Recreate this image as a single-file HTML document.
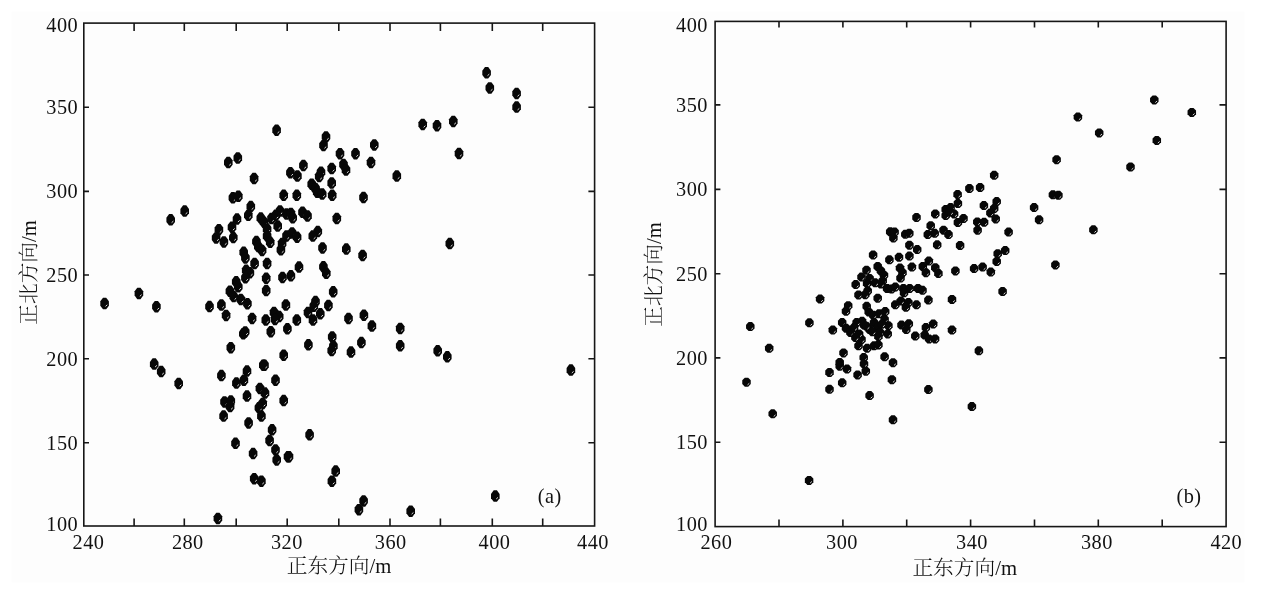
<!DOCTYPE html>
<html><head><meta charset="utf-8"><title>scatter</title>
<style>
html,body{margin:0;padding:0;background:#fff;}
svg{display:block}
text{font-family:"Liberation Serif","Noto Serif CJK SC",serif;fill:#111;}
.tk{font-size:20.3px;letter-spacing:0.45px}
.lb{font-size:20.7px;font-weight:300}
.ax{stroke:#161616;stroke-width:1.6;fill:none}
.p path{fill:#070707}
.p .h{fill:none;stroke:#d8d8d8;stroke-width:1}
</style></head><body>
<svg width="1266" height="591" viewBox="0 0 1266 591">
<rect x="0" y="0" width="1266" height="591" fill="#fff"/>
<rect x="11.5" y="11.5" width="1233" height="571" fill="#fdfdfd"/>
<rect class="ax" x="83.8" y="23.1" width="510.80" height="502.90"/>
<path class="ax" d="M134.1 526.0v-7.6M134.1 23.1v7.8M184.3 526.0v-7.6M184.3 23.1v7.8M236.2 526.0v-7.6M236.2 23.1v7.8M287.2 526.0v-7.6M287.2 23.1v7.8M338.8 526.0v-7.6M338.8 23.1v7.8M390.0 526.0v-7.6M390.0 23.1v7.8M440.4 526.0v-7.6M440.4 23.1v7.8M492.3 526.0v-7.6M492.3 23.1v7.8M542.7 526.0v-7.6M542.7 23.1v7.8M83.8 442.8h5.2M594.6 442.8h-6.2M83.8 358.8h5.2M594.6 358.8h-6.2M83.8 275.0h5.2M594.6 275.0h-6.2M83.8 191.4h5.2M594.6 191.4h-6.2M83.8 107.3h5.2M594.6 107.3h-6.2"/>
<text class="tk" x="88.5" y="548.7" text-anchor="middle">240</text>
<text class="tk" x="187.8" y="548.7" text-anchor="middle">280</text>
<text class="tk" x="286.9" y="548.7" text-anchor="middle">320</text>
<text class="tk" x="390.7" y="548.7" text-anchor="middle">360</text>
<text class="tk" x="494.5" y="548.7" text-anchor="middle">400</text>
<text class="tk" x="593.0" y="548.7" text-anchor="middle">440</text>
<text class="tk" x="78.1" y="530.7" text-anchor="end">100</text>
<text class="tk" x="78.1" y="449.8" text-anchor="end">150</text>
<text class="tk" x="78.1" y="365.8" text-anchor="end">200</text>
<text class="tk" x="78.1" y="282.0" text-anchor="end">250</text>
<text class="tk" x="78.1" y="198.4" text-anchor="end">300</text>
<text class="tk" x="78.1" y="114.3" text-anchor="end">350</text>
<text class="tk" x="78.1" y="31.7" text-anchor="end">400</text>
<text class="lb" x="339.0" y="573.0" text-anchor="middle">正东方向/m</text>
<text class="lb" transform="translate(35.5,272.4) rotate(-90)" text-anchor="middle">正北方向/m</text>
<text class="tk" x="549.7" y="503" text-anchor="middle">(a)</text>
<g class="p"><path d="M276.6 130.2m-1.6-5.75h3.2l2.7 3.6v4.3l-2.7 3.6h-3.2l-2.7-3.6v-4.3z"/><path class="h" d="M277.5 133.1l1.8-1.6"/><path d="M326.0 136.9m-1.6-5.75h3.2l2.7 3.6v4.3l-2.7 3.6h-3.2l-2.7-3.6v-4.3z"/><path class="h" d="M326.9 139.8l1.8-1.6"/><path d="M323.5 145.4m-1.6-5.75h3.2l2.7 3.6v4.3l-2.7 3.6h-3.2l-2.7-3.6v-4.3z"/><path class="h" d="M324.4 148.3l1.8-1.6"/><path d="M374.3 144.9m-1.6-5.75h3.2l2.7 3.6v4.3l-2.7 3.6h-3.2l-2.7-3.6v-4.3z"/><path class="h" d="M375.2 147.8l1.8-1.6"/><path d="M340.0 153.7m-1.6-5.75h3.2l2.7 3.6v4.3l-2.7 3.6h-3.2l-2.7-3.6v-4.3z"/><path class="h" d="M340.9 156.6l1.8-1.6"/><path d="M355.5 153.7m-1.6-5.75h3.2l2.7 3.6v4.3l-2.7 3.6h-3.2l-2.7-3.6v-4.3z"/><path class="h" d="M356.4 156.6l1.8-1.6"/><path d="M237.8 158.0m-1.6-5.75h3.2l2.7 3.6v4.3l-2.7 3.6h-3.2l-2.7-3.6v-4.3z"/><path class="h" d="M238.7 160.9l1.8-1.6"/><path d="M228.3 162.5m-1.6-5.75h3.2l2.7 3.6v4.3l-2.7 3.6h-3.2l-2.7-3.6v-4.3z"/><path class="h" d="M229.2 165.4l1.8-1.6"/><path d="M371.0 162.5m-1.6-5.75h3.2l2.7 3.6v4.3l-2.7 3.6h-3.2l-2.7-3.6v-4.3z"/><path class="h" d="M371.9 165.4l1.8-1.6"/><path d="M303.4 165.5m-1.6-5.75h3.2l2.7 3.6v4.3l-2.7 3.6h-3.2l-2.7-3.6v-4.3z"/><path class="h" d="M304.3 168.4l1.8-1.6"/><path d="M343.5 164.5m-1.6-5.75h3.2l2.7 3.6v4.3l-2.7 3.6h-3.2l-2.7-3.6v-4.3z"/><path class="h" d="M344.4 167.4l1.8-1.6"/><path d="M346.0 170.0m-1.6-5.75h3.2l2.7 3.6v4.3l-2.7 3.6h-3.2l-2.7-3.6v-4.3z"/><path class="h" d="M346.9 172.9l1.8-1.6"/><path d="M331.7 168.5m-1.6-5.75h3.2l2.7 3.6v4.3l-2.7 3.6h-3.2l-2.7-3.6v-4.3z"/><path class="h" d="M332.6 171.4l1.8-1.6"/><path d="M290.4 172.7m-1.6-5.75h3.2l2.7 3.6v4.3l-2.7 3.6h-3.2l-2.7-3.6v-4.3z"/><path class="h" d="M291.3 175.6l1.8-1.6"/><path d="M297.4 176.0m-1.6-5.75h3.2l2.7 3.6v4.3l-2.7 3.6h-3.2l-2.7-3.6v-4.3z"/><path class="h" d="M298.3 178.9l1.8-1.6"/><path d="M321.0 172.2m-1.6-5.75h3.2l2.7 3.6v4.3l-2.7 3.6h-3.2l-2.7-3.6v-4.3z"/><path class="h" d="M321.9 175.1l1.8-1.6"/><path d="M319.2 176.5m-1.6-5.75h3.2l2.7 3.6v4.3l-2.7 3.6h-3.2l-2.7-3.6v-4.3z"/><path class="h" d="M320.1 179.4l1.8-1.6"/><path d="M396.8 176.0m-1.6-5.75h3.2l2.7 3.6v4.3l-2.7 3.6h-3.2l-2.7-3.6v-4.3z"/><path class="h" d="M397.7 178.9l1.8-1.6"/><path d="M254.1 178.5m-1.6-5.75h3.2l2.7 3.6v4.3l-2.7 3.6h-3.2l-2.7-3.6v-4.3z"/><path class="h" d="M255.0 181.4l1.8-1.6"/><path d="M331.7 183.0m-1.6-5.75h3.2l2.7 3.6v4.3l-2.7 3.6h-3.2l-2.7-3.6v-4.3z"/><path class="h" d="M332.6 185.9l1.8-1.6"/><path d="M311.7 184.2m-1.6-5.75h3.2l2.7 3.6v4.3l-2.7 3.6h-3.2l-2.7-3.6v-4.3z"/><path class="h" d="M312.6 187.1l1.8-1.6"/><path d="M315.5 188.5m-1.6-5.75h3.2l2.7 3.6v4.3l-2.7 3.6h-3.2l-2.7-3.6v-4.3z"/><path class="h" d="M316.4 191.4l1.8-1.6"/><path d="M363.5 197.5m-1.6-5.75h3.2l2.7 3.6v4.3l-2.7 3.6h-3.2l-2.7-3.6v-4.3z"/><path class="h" d="M364.4 200.4l1.8-1.6"/><path d="M232.9 197.8m-1.6-5.75h3.2l2.7 3.6v4.3l-2.7 3.6h-3.2l-2.7-3.6v-4.3z"/><path class="h" d="M233.8 200.7l1.8-1.6"/><path d="M238.3 196.3m-1.6-5.75h3.2l2.7 3.6v4.3l-2.7 3.6h-3.2l-2.7-3.6v-4.3z"/><path class="h" d="M239.2 199.2l1.8-1.6"/><path d="M283.7 195.3m-1.6-5.75h3.2l2.7 3.6v4.3l-2.7 3.6h-3.2l-2.7-3.6v-4.3z"/><path class="h" d="M284.6 198.2l1.8-1.6"/><path d="M296.8 195.3m-1.6-5.75h3.2l2.7 3.6v4.3l-2.7 3.6h-3.2l-2.7-3.6v-4.3z"/><path class="h" d="M297.7 198.2l1.8-1.6"/><path d="M317.2 192.2m-1.6-5.75h3.2l2.7 3.6v4.3l-2.7 3.6h-3.2l-2.7-3.6v-4.3z"/><path class="h" d="M318.1 195.1l1.8-1.6"/><path d="M322.2 194.1m-1.6-5.75h3.2l2.7 3.6v4.3l-2.7 3.6h-3.2l-2.7-3.6v-4.3z"/><path class="h" d="M323.1 197.0l1.8-1.6"/><path d="M332.2 195.3m-1.6-5.75h3.2l2.7 3.6v4.3l-2.7 3.6h-3.2l-2.7-3.6v-4.3z"/><path class="h" d="M333.1 198.2l1.8-1.6"/><path d="M250.8 206.6m-1.6-5.75h3.2l2.7 3.6v4.3l-2.7 3.6h-3.2l-2.7-3.6v-4.3z"/><path class="h" d="M251.7 209.5l1.8-1.6"/><path d="M248.3 215.3m-1.6-5.75h3.2l2.7 3.6v4.3l-2.7 3.6h-3.2l-2.7-3.6v-4.3z"/><path class="h" d="M249.2 218.2l1.8-1.6"/><path d="M237.0 219.1m-1.6-5.75h3.2l2.7 3.6v4.3l-2.7 3.6h-3.2l-2.7-3.6v-4.3z"/><path class="h" d="M237.9 222.0l1.8-1.6"/><path d="M232.0 227.2m-1.6-5.75h3.2l2.7 3.6v4.3l-2.7 3.6h-3.2l-2.7-3.6v-4.3z"/><path class="h" d="M232.9 230.1l1.8-1.6"/><path d="M218.9 229.7m-1.6-5.75h3.2l2.7 3.6v4.3l-2.7 3.6h-3.2l-2.7-3.6v-4.3z"/><path class="h" d="M219.8 232.6l1.8-1.6"/><path d="M216.1 237.9m-1.6-5.75h3.2l2.7 3.6v4.3l-2.7 3.6h-3.2l-2.7-3.6v-4.3z"/><path class="h" d="M217.0 240.8l1.8-1.6"/><path d="M223.9 241.9m-1.6-5.75h3.2l2.7 3.6v4.3l-2.7 3.6h-3.2l-2.7-3.6v-4.3z"/><path class="h" d="M224.8 244.8l1.8-1.6"/><path d="M233.3 237.6m-1.6-5.75h3.2l2.7 3.6v4.3l-2.7 3.6h-3.2l-2.7-3.6v-4.3z"/><path class="h" d="M234.2 240.5l1.8-1.6"/><path d="M260.8 218.1m-1.6-5.75h3.2l2.7 3.6v4.3l-2.7 3.6h-3.2l-2.7-3.6v-4.3z"/><path class="h" d="M261.7 221.0l1.8-1.6"/><path d="M264.0 222.2m-1.6-5.75h3.2l2.7 3.6v4.3l-2.7 3.6h-3.2l-2.7-3.6v-4.3z"/><path class="h" d="M264.9 225.1l1.8-1.6"/><path d="M271.5 218.5m-1.6-5.75h3.2l2.7 3.6v4.3l-2.7 3.6h-3.2l-2.7-3.6v-4.3z"/><path class="h" d="M272.4 221.4l1.8-1.6"/><path d="M275.8 215.3m-1.6-5.75h3.2l2.7 3.6v4.3l-2.7 3.6h-3.2l-2.7-3.6v-4.3z"/><path class="h" d="M276.7 218.2l1.8-1.6"/><path d="M280.0 211.0m-1.6-5.75h3.2l2.7 3.6v4.3l-2.7 3.6h-3.2l-2.7-3.6v-4.3z"/><path class="h" d="M280.9 213.9l1.8-1.6"/><path d="M286.5 214.1m-1.6-5.75h3.2l2.7 3.6v4.3l-2.7 3.6h-3.2l-2.7-3.6v-4.3z"/><path class="h" d="M287.4 217.0l1.8-1.6"/><path d="M290.9 213.5m-1.6-5.75h3.2l2.7 3.6v4.3l-2.7 3.6h-3.2l-2.7-3.6v-4.3z"/><path class="h" d="M291.8 216.4l1.8-1.6"/><path d="M292.7 217.8m-1.6-5.75h3.2l2.7 3.6v4.3l-2.7 3.6h-3.2l-2.7-3.6v-4.3z"/><path class="h" d="M293.6 220.7l1.8-1.6"/><path d="M277.7 226.0m-1.6-5.75h3.2l2.7 3.6v4.3l-2.7 3.6h-3.2l-2.7-3.6v-4.3z"/><path class="h" d="M278.6 228.9l1.8-1.6"/><path d="M302.5 212.2m-1.6-5.75h3.2l2.7 3.6v4.3l-2.7 3.6h-3.2l-2.7-3.6v-4.3z"/><path class="h" d="M303.4 215.1l1.8-1.6"/><path d="M307.5 216.0m-1.6-5.75h3.2l2.7 3.6v4.3l-2.7 3.6h-3.2l-2.7-3.6v-4.3z"/><path class="h" d="M308.4 218.9l1.8-1.6"/><path d="M336.8 218.5m-1.6-5.75h3.2l2.7 3.6v4.3l-2.7 3.6h-3.2l-2.7-3.6v-4.3z"/><path class="h" d="M337.7 221.4l1.8-1.6"/><path d="M267.1 229.1m-1.6-5.75h3.2l2.7 3.6v4.3l-2.7 3.6h-3.2l-2.7-3.6v-4.3z"/><path class="h" d="M268.0 232.0l1.8-1.6"/><path d="M267.1 236.0m-1.6-5.75h3.2l2.7 3.6v4.3l-2.7 3.6h-3.2l-2.7-3.6v-4.3z"/><path class="h" d="M268.0 238.9l1.8-1.6"/><path d="M270.2 242.3m-1.6-5.75h3.2l2.7 3.6v4.3l-2.7 3.6h-3.2l-2.7-3.6v-4.3z"/><path class="h" d="M271.1 245.2l1.8-1.6"/><path d="M286.5 236.0m-1.6-5.75h3.2l2.7 3.6v4.3l-2.7 3.6h-3.2l-2.7-3.6v-4.3z"/><path class="h" d="M287.4 238.9l1.8-1.6"/><path d="M292.1 232.9m-1.6-5.75h3.2l2.7 3.6v4.3l-2.7 3.6h-3.2l-2.7-3.6v-4.3z"/><path class="h" d="M293.0 235.8l1.8-1.6"/><path d="M297.1 237.2m-1.6-5.75h3.2l2.7 3.6v4.3l-2.7 3.6h-3.2l-2.7-3.6v-4.3z"/><path class="h" d="M298.0 240.1l1.8-1.6"/><path d="M282.1 243.5m-1.6-5.75h3.2l2.7 3.6v4.3l-2.7 3.6h-3.2l-2.7-3.6v-4.3z"/><path class="h" d="M283.0 246.4l1.8-1.6"/><path d="M280.9 249.8m-1.6-5.75h3.2l2.7 3.6v4.3l-2.7 3.6h-3.2l-2.7-3.6v-4.3z"/><path class="h" d="M281.8 252.7l1.8-1.6"/><path d="M317.8 231.6m-1.6-5.75h3.2l2.7 3.6v4.3l-2.7 3.6h-3.2l-2.7-3.6v-4.3z"/><path class="h" d="M318.7 234.5l1.8-1.6"/><path d="M312.8 236.0m-1.6-5.75h3.2l2.7 3.6v4.3l-2.7 3.6h-3.2l-2.7-3.6v-4.3z"/><path class="h" d="M313.7 238.9l1.8-1.6"/><path d="M322.5 247.9m-1.6-5.75h3.2l2.7 3.6v4.3l-2.7 3.6h-3.2l-2.7-3.6v-4.3z"/><path class="h" d="M323.4 250.8l1.8-1.6"/><path d="M346.3 249.1m-1.6-5.75h3.2l2.7 3.6v4.3l-2.7 3.6h-3.2l-2.7-3.6v-4.3z"/><path class="h" d="M347.2 252.0l1.8-1.6"/><path d="M256.4 241.6m-1.6-5.75h3.2l2.7 3.6v4.3l-2.7 3.6h-3.2l-2.7-3.6v-4.3z"/><path class="h" d="M257.3 244.5l1.8-1.6"/><path d="M258.3 246.6m-1.6-5.75h3.2l2.7 3.6v4.3l-2.7 3.6h-3.2l-2.7-3.6v-4.3z"/><path class="h" d="M259.2 249.5l1.8-1.6"/><path d="M262.1 250.4m-1.6-5.75h3.2l2.7 3.6v4.3l-2.7 3.6h-3.2l-2.7-3.6v-4.3z"/><path class="h" d="M263.0 253.3l1.8-1.6"/><path d="M243.7 252.3m-1.6-5.75h3.2l2.7 3.6v4.3l-2.7 3.6h-3.2l-2.7-3.6v-4.3z"/><path class="h" d="M244.6 255.2l1.8-1.6"/><path d="M245.4 257.9m-1.6-5.75h3.2l2.7 3.6v4.3l-2.7 3.6h-3.2l-2.7-3.6v-4.3z"/><path class="h" d="M246.3 260.8l1.8-1.6"/><path d="M254.6 263.5m-1.6-5.75h3.2l2.7 3.6v4.3l-2.7 3.6h-3.2l-2.7-3.6v-4.3z"/><path class="h" d="M255.5 266.4l1.8-1.6"/><path d="M267.1 263.5m-1.6-5.75h3.2l2.7 3.6v4.3l-2.7 3.6h-3.2l-2.7-3.6v-4.3z"/><path class="h" d="M268.0 266.4l1.8-1.6"/><path d="M299.0 267.1m-1.6-5.75h3.2l2.7 3.6v4.3l-2.7 3.6h-3.2l-2.7-3.6v-4.3z"/><path class="h" d="M299.9 270.0l1.8-1.6"/><path d="M323.4 266.8m-1.6-5.75h3.2l2.7 3.6v4.3l-2.7 3.6h-3.2l-2.7-3.6v-4.3z"/><path class="h" d="M324.3 269.7l1.8-1.6"/><path d="M326.3 273.3m-1.6-5.75h3.2l2.7 3.6v4.3l-2.7 3.6h-3.2l-2.7-3.6v-4.3z"/><path class="h" d="M327.2 276.2l1.8-1.6"/><path d="M246.2 270.3m-1.6-5.75h3.2l2.7 3.6v4.3l-2.7 3.6h-3.2l-2.7-3.6v-4.3z"/><path class="h" d="M247.1 273.2l1.8-1.6"/><path d="M249.9 272.8m-1.6-5.75h3.2l2.7 3.6v4.3l-2.7 3.6h-3.2l-2.7-3.6v-4.3z"/><path class="h" d="M250.8 275.7l1.8-1.6"/><path d="M245.4 277.8m-1.6-5.75h3.2l2.7 3.6v4.3l-2.7 3.6h-3.2l-2.7-3.6v-4.3z"/><path class="h" d="M246.3 280.7l1.8-1.6"/><path d="M236.2 281.8m-1.6-5.75h3.2l2.7 3.6v4.3l-2.7 3.6h-3.2l-2.7-3.6v-4.3z"/><path class="h" d="M237.1 284.7l1.8-1.6"/><path d="M238.3 286.8m-1.6-5.75h3.2l2.7 3.6v4.3l-2.7 3.6h-3.2l-2.7-3.6v-4.3z"/><path class="h" d="M239.2 289.7l1.8-1.6"/><path d="M229.9 291.2m-1.6-5.75h3.2l2.7 3.6v4.3l-2.7 3.6h-3.2l-2.7-3.6v-4.3z"/><path class="h" d="M230.8 294.1l1.8-1.6"/><path d="M233.7 296.6m-1.6-5.75h3.2l2.7 3.6v4.3l-2.7 3.6h-3.2l-2.7-3.6v-4.3z"/><path class="h" d="M234.6 299.5l1.8-1.6"/><path d="M240.8 299.4m-1.6-5.75h3.2l2.7 3.6v4.3l-2.7 3.6h-3.2l-2.7-3.6v-4.3z"/><path class="h" d="M241.7 302.3l1.8-1.6"/><path d="M247.4 303.7m-1.6-5.75h3.2l2.7 3.6v4.3l-2.7 3.6h-3.2l-2.7-3.6v-4.3z"/><path class="h" d="M248.3 306.6l1.8-1.6"/><path d="M266.2 278.3m-1.6-5.75h3.2l2.7 3.6v4.3l-2.7 3.6h-3.2l-2.7-3.6v-4.3z"/><path class="h" d="M267.1 281.2l1.8-1.6"/><path d="M266.2 290.6m-1.6-5.75h3.2l2.7 3.6v4.3l-2.7 3.6h-3.2l-2.7-3.6v-4.3z"/><path class="h" d="M267.1 293.5l1.8-1.6"/><path d="M282.5 277.4m-1.6-5.75h3.2l2.7 3.6v4.3l-2.7 3.6h-3.2l-2.7-3.6v-4.3z"/><path class="h" d="M283.4 280.3l1.8-1.6"/><path d="M290.9 275.8m-1.6-5.75h3.2l2.7 3.6v4.3l-2.7 3.6h-3.2l-2.7-3.6v-4.3z"/><path class="h" d="M291.8 278.7l1.8-1.6"/><path d="M333.2 291.8m-1.6-5.75h3.2l2.7 3.6v4.3l-2.7 3.6h-3.2l-2.7-3.6v-4.3z"/><path class="h" d="M334.1 294.7l1.8-1.6"/><path d="M209.5 306.6m-1.6-5.75h3.2l2.7 3.6v4.3l-2.7 3.6h-3.2l-2.7-3.6v-4.3z"/><path class="h" d="M210.4 309.5l1.8-1.6"/><path d="M221.4 305.0m-1.6-5.75h3.2l2.7 3.6v4.3l-2.7 3.6h-3.2l-2.7-3.6v-4.3z"/><path class="h" d="M222.3 307.9l1.8-1.6"/><path d="M226.1 315.4m-1.6-5.75h3.2l2.7 3.6v4.3l-2.7 3.6h-3.2l-2.7-3.6v-4.3z"/><path class="h" d="M227.0 318.3l1.8-1.6"/><path d="M252.1 318.4m-1.6-5.75h3.2l2.7 3.6v4.3l-2.7 3.6h-3.2l-2.7-3.6v-4.3z"/><path class="h" d="M253.0 321.3l1.8-1.6"/><path d="M285.9 305.0m-1.6-5.75h3.2l2.7 3.6v4.3l-2.7 3.6h-3.2l-2.7-3.6v-4.3z"/><path class="h" d="M286.8 307.9l1.8-1.6"/><path d="M315.5 301.6m-1.6-5.75h3.2l2.7 3.6v4.3l-2.7 3.6h-3.2l-2.7-3.6v-4.3z"/><path class="h" d="M316.4 304.5l1.8-1.6"/><path d="M313.8 306.2m-1.6-5.75h3.2l2.7 3.6v4.3l-2.7 3.6h-3.2l-2.7-3.6v-4.3z"/><path class="h" d="M314.7 309.1l1.8-1.6"/><path d="M328.4 305.4m-1.6-5.75h3.2l2.7 3.6v4.3l-2.7 3.6h-3.2l-2.7-3.6v-4.3z"/><path class="h" d="M329.3 308.3l1.8-1.6"/><path d="M308.0 312.5m-1.6-5.75h3.2l2.7 3.6v4.3l-2.7 3.6h-3.2l-2.7-3.6v-4.3z"/><path class="h" d="M308.9 315.4l1.8-1.6"/><path d="M320.3 313.8m-1.6-5.75h3.2l2.7 3.6v4.3l-2.7 3.6h-3.2l-2.7-3.6v-4.3z"/><path class="h" d="M321.2 316.7l1.8-1.6"/><path d="M313.0 320.0m-1.6-5.75h3.2l2.7 3.6v4.3l-2.7 3.6h-3.2l-2.7-3.6v-4.3z"/><path class="h" d="M313.9 322.9l1.8-1.6"/><path d="M296.8 320.0m-1.6-5.75h3.2l2.7 3.6v4.3l-2.7 3.6h-3.2l-2.7-3.6v-4.3z"/><path class="h" d="M297.7 322.9l1.8-1.6"/><path d="M348.5 318.4m-1.6-5.75h3.2l2.7 3.6v4.3l-2.7 3.6h-3.2l-2.7-3.6v-4.3z"/><path class="h" d="M349.4 321.3l1.8-1.6"/><path d="M274.0 312.5m-1.6-5.75h3.2l2.7 3.6v4.3l-2.7 3.6h-3.2l-2.7-3.6v-4.3z"/><path class="h" d="M274.9 315.4l1.8-1.6"/><path d="M279.2 316.6m-1.6-5.75h3.2l2.7 3.6v4.3l-2.7 3.6h-3.2l-2.7-3.6v-4.3z"/><path class="h" d="M280.1 319.5l1.8-1.6"/><path d="M275.0 319.4m-1.6-5.75h3.2l2.7 3.6v4.3l-2.7 3.6h-3.2l-2.7-3.6v-4.3z"/><path class="h" d="M275.9 322.3l1.8-1.6"/><path d="M265.8 320.0m-1.6-5.75h3.2l2.7 3.6v4.3l-2.7 3.6h-3.2l-2.7-3.6v-4.3z"/><path class="h" d="M266.7 322.9l1.8-1.6"/><path d="M287.4 328.8m-1.6-5.75h3.2l2.7 3.6v4.3l-2.7 3.6h-3.2l-2.7-3.6v-4.3z"/><path class="h" d="M288.3 331.7l1.8-1.6"/><path d="M270.8 331.7m-1.6-5.75h3.2l2.7 3.6v4.3l-2.7 3.6h-3.2l-2.7-3.6v-4.3z"/><path class="h" d="M271.7 334.6l1.8-1.6"/><path d="M243.3 333.8m-1.6-5.75h3.2l2.7 3.6v4.3l-2.7 3.6h-3.2l-2.7-3.6v-4.3z"/><path class="h" d="M244.2 336.7l1.8-1.6"/><path d="M245.2 331.9m-1.6-5.75h3.2l2.7 3.6v4.3l-2.7 3.6h-3.2l-2.7-3.6v-4.3z"/><path class="h" d="M246.1 334.8l1.8-1.6"/><path d="M332.2 336.9m-1.6-5.75h3.2l2.7 3.6v4.3l-2.7 3.6h-3.2l-2.7-3.6v-4.3z"/><path class="h" d="M333.1 339.8l1.8-1.6"/><path d="M230.8 347.7m-1.6-5.75h3.2l2.7 3.6v4.3l-2.7 3.6h-3.2l-2.7-3.6v-4.3z"/><path class="h" d="M231.7 350.6l1.8-1.6"/><path d="M283.7 355.2m-1.6-5.75h3.2l2.7 3.6v4.3l-2.7 3.6h-3.2l-2.7-3.6v-4.3z"/><path class="h" d="M284.6 358.1l1.8-1.6"/><path d="M308.4 344.8m-1.6-5.75h3.2l2.7 3.6v4.3l-2.7 3.6h-3.2l-2.7-3.6v-4.3z"/><path class="h" d="M309.3 347.7l1.8-1.6"/><path d="M333.4 346.1m-1.6-5.75h3.2l2.7 3.6v4.3l-2.7 3.6h-3.2l-2.7-3.6v-4.3z"/><path class="h" d="M334.3 349.0l1.8-1.6"/><path d="M331.7 350.6m-1.6-5.75h3.2l2.7 3.6v4.3l-2.7 3.6h-3.2l-2.7-3.6v-4.3z"/><path class="h" d="M332.6 353.5l1.8-1.6"/><path d="M351.0 352.1m-1.6-5.75h3.2l2.7 3.6v4.3l-2.7 3.6h-3.2l-2.7-3.6v-4.3z"/><path class="h" d="M351.9 355.0l1.8-1.6"/><path d="M263.3 365.2m-1.6-5.75h3.2l2.7 3.6v4.3l-2.7 3.6h-3.2l-2.7-3.6v-4.3z"/><path class="h" d="M264.2 368.1l1.8-1.6"/><path d="M247.0 371.1m-1.6-5.75h3.2l2.7 3.6v4.3l-2.7 3.6h-3.2l-2.7-3.6v-4.3z"/><path class="h" d="M247.9 374.0l1.8-1.6"/><path d="M221.4 375.6m-1.6-5.75h3.2l2.7 3.6v4.3l-2.7 3.6h-3.2l-2.7-3.6v-4.3z"/><path class="h" d="M222.3 378.5l1.8-1.6"/><path d="M243.9 380.2m-1.6-5.75h3.2l2.7 3.6v4.3l-2.7 3.6h-3.2l-2.7-3.6v-4.3z"/><path class="h" d="M244.8 383.1l1.8-1.6"/><path d="M236.4 383.1m-1.6-5.75h3.2l2.7 3.6v4.3l-2.7 3.6h-3.2l-2.7-3.6v-4.3z"/><path class="h" d="M237.3 386.0l1.8-1.6"/><path d="M275.5 380.2m-1.6-5.75h3.2l2.7 3.6v4.3l-2.7 3.6h-3.2l-2.7-3.6v-4.3z"/><path class="h" d="M276.4 383.1l1.8-1.6"/><path d="M259.9 388.4m-1.6-5.75h3.2l2.7 3.6v4.3l-2.7 3.6h-3.2l-2.7-3.6v-4.3z"/><path class="h" d="M260.8 391.3l1.8-1.6"/><path d="M265.0 393.1m-1.6-5.75h3.2l2.7 3.6v4.3l-2.7 3.6h-3.2l-2.7-3.6v-4.3z"/><path class="h" d="M265.9 396.0l1.8-1.6"/><path d="M247.0 396.1m-1.6-5.75h3.2l2.7 3.6v4.3l-2.7 3.6h-3.2l-2.7-3.6v-4.3z"/><path class="h" d="M247.9 399.0l1.8-1.6"/><path d="M283.7 400.6m-1.6-5.75h3.2l2.7 3.6v4.3l-2.7 3.6h-3.2l-2.7-3.6v-4.3z"/><path class="h" d="M284.6 403.5l1.8-1.6"/><path d="M224.5 401.9m-1.6-5.75h3.2l2.7 3.6v4.3l-2.7 3.6h-3.2l-2.7-3.6v-4.3z"/><path class="h" d="M225.4 404.8l1.8-1.6"/><path d="M230.8 400.9m-1.6-5.75h3.2l2.7 3.6v4.3l-2.7 3.6h-3.2l-2.7-3.6v-4.3z"/><path class="h" d="M231.7 403.8l1.8-1.6"/><path d="M230.1 406.5m-1.6-5.75h3.2l2.7 3.6v4.3l-2.7 3.6h-3.2l-2.7-3.6v-4.3z"/><path class="h" d="M231.0 409.4l1.8-1.6"/><path d="M262.7 403.4m-1.6-5.75h3.2l2.7 3.6v4.3l-2.7 3.6h-3.2l-2.7-3.6v-4.3z"/><path class="h" d="M263.6 406.3l1.8-1.6"/><path d="M258.9 407.8m-1.6-5.75h3.2l2.7 3.6v4.3l-2.7 3.6h-3.2l-2.7-3.6v-4.3z"/><path class="h" d="M259.8 410.7l1.8-1.6"/><path d="M223.6 416.1m-1.6-5.75h3.2l2.7 3.6v4.3l-2.7 3.6h-3.2l-2.7-3.6v-4.3z"/><path class="h" d="M224.5 419.0l1.8-1.6"/><path d="M261.4 416.1m-1.6-5.75h3.2l2.7 3.6v4.3l-2.7 3.6h-3.2l-2.7-3.6v-4.3z"/><path class="h" d="M262.3 419.0l1.8-1.6"/><path d="M248.6 422.9m-1.6-5.75h3.2l2.7 3.6v4.3l-2.7 3.6h-3.2l-2.7-3.6v-4.3z"/><path class="h" d="M249.5 425.8l1.8-1.6"/><path d="M272.1 429.8m-1.6-5.75h3.2l2.7 3.6v4.3l-2.7 3.6h-3.2l-2.7-3.6v-4.3z"/><path class="h" d="M273.0 432.7l1.8-1.6"/><path d="M269.6 440.5m-1.6-5.75h3.2l2.7 3.6v4.3l-2.7 3.6h-3.2l-2.7-3.6v-4.3z"/><path class="h" d="M270.5 443.4l1.8-1.6"/><path d="M235.5 443.3m-1.6-5.75h3.2l2.7 3.6v4.3l-2.7 3.6h-3.2l-2.7-3.6v-4.3z"/><path class="h" d="M236.4 446.2l1.8-1.6"/><path d="M309.6 434.8m-1.6-5.75h3.2l2.7 3.6v4.3l-2.7 3.6h-3.2l-2.7-3.6v-4.3z"/><path class="h" d="M310.5 437.7l1.8-1.6"/><path d="M253.1 453.6m-1.6-5.75h3.2l2.7 3.6v4.3l-2.7 3.6h-3.2l-2.7-3.6v-4.3z"/><path class="h" d="M254.0 456.5l1.8-1.6"/><path d="M275.5 449.9m-1.6-5.75h3.2l2.7 3.6v4.3l-2.7 3.6h-3.2l-2.7-3.6v-4.3z"/><path class="h" d="M276.4 452.8l1.8-1.6"/><path d="M276.7 459.9m-1.6-5.75h3.2l2.7 3.6v4.3l-2.7 3.6h-3.2l-2.7-3.6v-4.3z"/><path class="h" d="M277.6 462.8l1.8-1.6"/><path d="M288.0 456.7m-1.6-5.75h3.2l2.7 3.6v4.3l-2.7 3.6h-3.2l-2.7-3.6v-4.3z"/><path class="h" d="M288.9 459.6l1.8-1.6"/><path d="M335.7 471.1m-1.6-5.75h3.2l2.7 3.6v4.3l-2.7 3.6h-3.2l-2.7-3.6v-4.3z"/><path class="h" d="M336.6 474.0l1.8-1.6"/><path d="M331.9 481.2m-1.6-5.75h3.2l2.7 3.6v4.3l-2.7 3.6h-3.2l-2.7-3.6v-4.3z"/><path class="h" d="M332.8 484.1l1.8-1.6"/><path d="M254.2 478.7m-1.6-5.75h3.2l2.7 3.6v4.3l-2.7 3.6h-3.2l-2.7-3.6v-4.3z"/><path class="h" d="M255.1 481.6l1.8-1.6"/><path d="M261.4 481.2m-1.6-5.75h3.2l2.7 3.6v4.3l-2.7 3.6h-3.2l-2.7-3.6v-4.3z"/><path class="h" d="M262.3 484.1l1.8-1.6"/><path d="M264.5 365.2m-1.6-5.75h3.2l2.7 3.6v4.3l-2.7 3.6h-3.2l-2.7-3.6v-4.3z"/><path class="h" d="M265.4 368.1l1.8-1.6"/><path d="M289.0 456.7m-1.6-5.75h3.2l2.7 3.6v4.3l-2.7 3.6h-3.2l-2.7-3.6v-4.3z"/><path class="h" d="M289.9 459.6l1.8-1.6"/><path d="M184.7 211.1m-1.6-5.75h3.2l2.7 3.6v4.3l-2.7 3.6h-3.2l-2.7-3.6v-4.3z"/><path class="h" d="M185.6 214.0l1.8-1.6"/><path d="M170.7 219.8m-1.6-5.75h3.2l2.7 3.6v4.3l-2.7 3.6h-3.2l-2.7-3.6v-4.3z"/><path class="h" d="M171.6 222.7l1.8-1.6"/><path d="M138.9 293.4m-1.6-5.75h3.2l2.7 3.6v4.3l-2.7 3.6h-3.2l-2.7-3.6v-4.3z"/><path class="h" d="M139.8 296.3l1.8-1.6"/><path d="M104.6 303.5m-1.6-5.75h3.2l2.7 3.6v4.3l-2.7 3.6h-3.2l-2.7-3.6v-4.3z"/><path class="h" d="M105.5 306.4l1.8-1.6"/><path d="M156.4 306.7m-1.6-5.75h3.2l2.7 3.6v4.3l-2.7 3.6h-3.2l-2.7-3.6v-4.3z"/><path class="h" d="M157.3 309.6l1.8-1.6"/><path d="M154.2 364.1m-1.6-5.75h3.2l2.7 3.6v4.3l-2.7 3.6h-3.2l-2.7-3.6v-4.3z"/><path class="h" d="M155.1 367.0l1.8-1.6"/><path d="M161.2 371.6m-1.6-5.75h3.2l2.7 3.6v4.3l-2.7 3.6h-3.2l-2.7-3.6v-4.3z"/><path class="h" d="M162.1 374.5l1.8-1.6"/><path d="M178.7 383.4m-1.6-5.75h3.2l2.7 3.6v4.3l-2.7 3.6h-3.2l-2.7-3.6v-4.3z"/><path class="h" d="M179.6 386.3l1.8-1.6"/><path d="M217.9 518.4m-1.6-5.75h3.2l2.7 3.6v4.3l-2.7 3.6h-3.2l-2.7-3.6v-4.3z"/><path class="h" d="M218.8 521.3l1.8-1.6"/><path d="M358.9 509.7m-1.6-5.75h3.2l2.7 3.6v4.3l-2.7 3.6h-3.2l-2.7-3.6v-4.3z"/><path class="h" d="M359.8 512.6l1.8-1.6"/><path d="M363.6 500.9m-1.6-5.75h3.2l2.7 3.6v4.3l-2.7 3.6h-3.2l-2.7-3.6v-4.3z"/><path class="h" d="M364.5 503.8l1.8-1.6"/><path d="M410.7 511.2m-1.6-5.75h3.2l2.7 3.6v4.3l-2.7 3.6h-3.2l-2.7-3.6v-4.3z"/><path class="h" d="M411.6 514.1l1.8-1.6"/><path d="M495.3 496.1m-1.6-5.75h3.2l2.7 3.6v4.3l-2.7 3.6h-3.2l-2.7-3.6v-4.3z"/><path class="h" d="M496.2 499.0l1.8-1.6"/><path d="M486.6 72.8m-1.6-5.75h3.2l2.7 3.6v4.3l-2.7 3.6h-3.2l-2.7-3.6v-4.3z"/><path class="h" d="M487.5 75.7l1.8-1.6"/><path d="M489.8 87.9m-1.6-5.75h3.2l2.7 3.6v4.3l-2.7 3.6h-3.2l-2.7-3.6v-4.3z"/><path class="h" d="M490.7 90.8l1.8-1.6"/><path d="M516.6 93.4m-1.6-5.75h3.2l2.7 3.6v4.3l-2.7 3.6h-3.2l-2.7-3.6v-4.3z"/><path class="h" d="M517.5 96.3l1.8-1.6"/><path d="M516.6 107.1m-1.6-5.75h3.2l2.7 3.6v4.3l-2.7 3.6h-3.2l-2.7-3.6v-4.3z"/><path class="h" d="M517.5 110.0l1.8-1.6"/><path d="M422.7 124.4m-1.6-5.75h3.2l2.7 3.6v4.3l-2.7 3.6h-3.2l-2.7-3.6v-4.3z"/><path class="h" d="M423.6 127.3l1.8-1.6"/><path d="M437.0 125.7m-1.6-5.75h3.2l2.7 3.6v4.3l-2.7 3.6h-3.2l-2.7-3.6v-4.3z"/><path class="h" d="M437.9 128.6l1.8-1.6"/><path d="M453.3 121.4m-1.6-5.75h3.2l2.7 3.6v4.3l-2.7 3.6h-3.2l-2.7-3.6v-4.3z"/><path class="h" d="M454.2 124.3l1.8-1.6"/><path d="M459.0 153.5m-1.6-5.75h3.2l2.7 3.6v4.3l-2.7 3.6h-3.2l-2.7-3.6v-4.3z"/><path class="h" d="M459.9 156.4l1.8-1.6"/><path d="M362.6 255.4m-1.6-5.75h3.2l2.7 3.6v4.3l-2.7 3.6h-3.2l-2.7-3.6v-4.3z"/><path class="h" d="M363.5 258.3l1.8-1.6"/><path d="M363.9 315.2m-1.6-5.75h3.2l2.7 3.6v4.3l-2.7 3.6h-3.2l-2.7-3.6v-4.3z"/><path class="h" d="M364.8 318.1l1.8-1.6"/><path d="M371.9 326.0m-1.6-5.75h3.2l2.7 3.6v4.3l-2.7 3.6h-3.2l-2.7-3.6v-4.3z"/><path class="h" d="M372.8 328.9l1.8-1.6"/><path d="M400.2 328.5m-1.6-5.75h3.2l2.7 3.6v4.3l-2.7 3.6h-3.2l-2.7-3.6v-4.3z"/><path class="h" d="M401.1 331.4l1.8-1.6"/><path d="M361.4 342.6m-1.6-5.75h3.2l2.7 3.6v4.3l-2.7 3.6h-3.2l-2.7-3.6v-4.3z"/><path class="h" d="M362.3 345.5l1.8-1.6"/><path d="M400.2 345.8m-1.6-5.75h3.2l2.7 3.6v4.3l-2.7 3.6h-3.2l-2.7-3.6v-4.3z"/><path class="h" d="M401.1 348.7l1.8-1.6"/><path d="M449.8 243.6m-1.6-5.75h3.2l2.7 3.6v4.3l-2.7 3.6h-3.2l-2.7-3.6v-4.3z"/><path class="h" d="M450.7 246.5l1.8-1.6"/><path d="M437.7 350.8m-1.6-5.75h3.2l2.7 3.6v4.3l-2.7 3.6h-3.2l-2.7-3.6v-4.3z"/><path class="h" d="M438.6 353.7l1.8-1.6"/><path d="M447.3 356.8m-1.6-5.75h3.2l2.7 3.6v4.3l-2.7 3.6h-3.2l-2.7-3.6v-4.3z"/><path class="h" d="M448.2 359.7l1.8-1.6"/><path d="M570.9 370.1m-1.6-5.75h3.2l2.7 3.6v4.3l-2.7 3.6h-3.2l-2.7-3.6v-4.3z"/><path class="h" d="M571.8 373.0l1.8-1.6"/></g>
<rect class="ax" x="715.1" y="21.4" width="511.00" height="505.20"/>
<path class="ax" d="M779.0 526.6v-7.2M779.0 21.4v6.0M842.9 526.6v-7.2M842.9 21.4v6.0M906.7 526.6v-7.2M906.7 21.4v6.0M970.6 526.6v-7.2M970.6 21.4v6.0M1034.5 526.6v-7.2M1034.5 21.4v6.0M1098.3 526.6v-7.2M1098.3 21.4v6.0M1162.2 526.6v-7.2M1162.2 21.4v6.0M715.1 442.3h5.3M1226.1 442.3h-6.6M715.1 357.9h5.3M1226.1 357.9h-6.6M715.1 273.8h5.3M1226.1 273.8h-6.6M715.1 189.4h5.3M1226.1 189.4h-6.6M715.1 104.9h5.3M1226.1 104.9h-6.6"/>
<text class="tk" x="716.4" y="548.7" text-anchor="middle">260</text>
<text class="tk" x="842.0" y="548.7" text-anchor="middle">300</text>
<text class="tk" x="972.0" y="548.7" text-anchor="middle">340</text>
<text class="tk" x="1096.9" y="548.7" text-anchor="middle">380</text>
<text class="tk" x="1226.3" y="548.7" text-anchor="middle">420</text>
<text class="tk" x="707.9" y="530.7" text-anchor="end">100</text>
<text class="tk" x="707.9" y="449.3" text-anchor="end">150</text>
<text class="tk" x="707.9" y="364.9" text-anchor="end">200</text>
<text class="tk" x="707.9" y="280.8" text-anchor="end">250</text>
<text class="tk" x="707.9" y="196.4" text-anchor="end">300</text>
<text class="tk" x="707.9" y="111.9" text-anchor="end">350</text>
<text class="tk" x="707.9" y="31.7" text-anchor="end">400</text>
<text class="lb" x="964.7" y="575.3" text-anchor="middle">正东方向/m</text>
<text class="lb" transform="translate(661.3,274.5) rotate(-90)" text-anchor="middle">正北方向/m</text>
<text class="tk" x="1189" y="503" text-anchor="middle">(b)</text>
<g class="p"><path d="M994.2 175.3m-1.7-4.5h3.4l2.55 2.6v3.8l-2.55 2.6h-3.4l-2.55-2.6v-3.8z"/><path class="h" d="M995.2 178.0l1.8-1.6"/><path d="M969.4 188.5m-1.7-4.5h3.4l2.55 2.6v3.8l-2.55 2.6h-3.4l-2.55-2.6v-3.8z"/><path class="h" d="M970.4 191.2l1.8-1.6"/><path d="M980.1 187.5m-1.7-4.5h3.4l2.55 2.6v3.8l-2.55 2.6h-3.4l-2.55-2.6v-3.8z"/><path class="h" d="M981.1 190.2l1.8-1.6"/><path d="M957.6 194.4m-1.7-4.5h3.4l2.55 2.6v3.8l-2.55 2.6h-3.4l-2.55-2.6v-3.8z"/><path class="h" d="M958.6 197.1l1.8-1.6"/><path d="M957.9 203.5m-1.7-4.5h3.4l2.55 2.6v3.8l-2.55 2.6h-3.4l-2.55-2.6v-3.8z"/><path class="h" d="M958.9 206.2l1.8-1.6"/><path d="M983.9 205.6m-1.7-4.5h3.4l2.55 2.6v3.8l-2.55 2.6h-3.4l-2.55-2.6v-3.8z"/><path class="h" d="M984.9 208.3l1.8-1.6"/><path d="M996.7 201.6m-1.7-4.5h3.4l2.55 2.6v3.8l-2.55 2.6h-3.4l-2.55-2.6v-3.8z"/><path class="h" d="M997.7 204.3l1.8-1.6"/><path d="M994.2 208.5m-1.7-4.5h3.4l2.55 2.6v3.8l-2.55 2.6h-3.4l-2.55-2.6v-3.8z"/><path class="h" d="M995.2 211.2l1.8-1.6"/><path d="M990.4 212.9m-1.7-4.5h3.4l2.55 2.6v3.8l-2.55 2.6h-3.4l-2.55-2.6v-3.8z"/><path class="h" d="M991.4 215.6l1.8-1.6"/><path d="M995.7 218.9m-1.7-4.5h3.4l2.55 2.6v3.8l-2.55 2.6h-3.4l-2.55-2.6v-3.8z"/><path class="h" d="M996.7 221.6l1.8-1.6"/><path d="M916.5 217.5m-1.7-4.5h3.4l2.55 2.6v3.8l-2.55 2.6h-3.4l-2.55-2.6v-3.8z"/><path class="h" d="M917.5 220.2l1.8-1.6"/><path d="M935.3 213.9m-1.7-4.5h3.4l2.55 2.6v3.8l-2.55 2.6h-3.4l-2.55-2.6v-3.8z"/><path class="h" d="M936.3 216.6l1.8-1.6"/><path d="M945.7 209.5m-1.7-4.5h3.4l2.55 2.6v3.8l-2.55 2.6h-3.4l-2.55-2.6v-3.8z"/><path class="h" d="M946.7 212.2l1.8-1.6"/><path d="M950.6 207.6m-1.7-4.5h3.4l2.55 2.6v3.8l-2.55 2.6h-3.4l-2.55-2.6v-3.8z"/><path class="h" d="M951.6 210.3l1.8-1.6"/><path d="M954.1 213.9m-1.7-4.5h3.4l2.55 2.6v3.8l-2.55 2.6h-3.4l-2.55-2.6v-3.8z"/><path class="h" d="M955.1 216.6l1.8-1.6"/><path d="M945.7 215.6m-1.7-4.5h3.4l2.55 2.6v3.8l-2.55 2.6h-3.4l-2.55-2.6v-3.8z"/><path class="h" d="M946.7 218.3l1.8-1.6"/><path d="M950.1 211.9m-1.7-4.5h3.4l2.55 2.6v3.8l-2.55 2.6h-3.4l-2.55-2.6v-3.8z"/><path class="h" d="M951.1 214.6l1.8-1.6"/><path d="M963.5 218.5m-1.7-4.5h3.4l2.55 2.6v3.8l-2.55 2.6h-3.4l-2.55-2.6v-3.8z"/><path class="h" d="M964.5 221.2l1.8-1.6"/><path d="M957.9 222.5m-1.7-4.5h3.4l2.55 2.6v3.8l-2.55 2.6h-3.4l-2.55-2.6v-3.8z"/><path class="h" d="M958.9 225.2l1.8-1.6"/><path d="M977.3 221.9m-1.7-4.5h3.4l2.55 2.6v3.8l-2.55 2.6h-3.4l-2.55-2.6v-3.8z"/><path class="h" d="M978.3 224.6l1.8-1.6"/><path d="M984.1 222.3m-1.7-4.5h3.4l2.55 2.6v3.8l-2.55 2.6h-3.4l-2.55-2.6v-3.8z"/><path class="h" d="M985.1 225.0l1.8-1.6"/><path d="M930.7 225.7m-1.7-4.5h3.4l2.55 2.6v3.8l-2.55 2.6h-3.4l-2.55-2.6v-3.8z"/><path class="h" d="M931.7 228.4l1.8-1.6"/><path d="M890.2 231.8m-1.7-4.5h3.4l2.55 2.6v3.8l-2.55 2.6h-3.4l-2.55-2.6v-3.8z"/><path class="h" d="M891.2 234.5l1.8-1.6"/><path d="M894.6 232.1m-1.7-4.5h3.4l2.55 2.6v3.8l-2.55 2.6h-3.4l-2.55-2.6v-3.8z"/><path class="h" d="M895.6 234.8l1.8-1.6"/><path d="M893.4 238.1m-1.7-4.5h3.4l2.55 2.6v3.8l-2.55 2.6h-3.4l-2.55-2.6v-3.8z"/><path class="h" d="M894.4 240.8l1.8-1.6"/><path d="M905.3 234.3m-1.7-4.5h3.4l2.55 2.6v3.8l-2.55 2.6h-3.4l-2.55-2.6v-3.8z"/><path class="h" d="M906.3 237.0l1.8-1.6"/><path d="M909.3 233.3m-1.7-4.5h3.4l2.55 2.6v3.8l-2.55 2.6h-3.4l-2.55-2.6v-3.8z"/><path class="h" d="M910.3 236.0l1.8-1.6"/><path d="M927.8 234.6m-1.7-4.5h3.4l2.55 2.6v3.8l-2.55 2.6h-3.4l-2.55-2.6v-3.8z"/><path class="h" d="M928.8 237.3l1.8-1.6"/><path d="M934.7 233.3m-1.7-4.5h3.4l2.55 2.6v3.8l-2.55 2.6h-3.4l-2.55-2.6v-3.8z"/><path class="h" d="M935.7 236.0l1.8-1.6"/><path d="M943.5 230.2m-1.7-4.5h3.4l2.55 2.6v3.8l-2.55 2.6h-3.4l-2.55-2.6v-3.8z"/><path class="h" d="M944.5 232.9l1.8-1.6"/><path d="M948.5 234.6m-1.7-4.5h3.4l2.55 2.6v3.8l-2.55 2.6h-3.4l-2.55-2.6v-3.8z"/><path class="h" d="M949.5 237.3l1.8-1.6"/><path d="M977.6 230.2m-1.7-4.5h3.4l2.55 2.6v3.8l-2.55 2.6h-3.4l-2.55-2.6v-3.8z"/><path class="h" d="M978.6 232.9l1.8-1.6"/><path d="M1008.6 232.1m-1.7-4.5h3.4l2.55 2.6v3.8l-2.55 2.6h-3.4l-2.55-2.6v-3.8z"/><path class="h" d="M1009.6 234.8l1.8-1.6"/><path d="M909.4 245.2m-1.7-4.5h3.4l2.55 2.6v3.8l-2.55 2.6h-3.4l-2.55-2.6v-3.8z"/><path class="h" d="M910.4 247.9l1.8-1.6"/><path d="M917.2 249.6m-1.7-4.5h3.4l2.55 2.6v3.8l-2.55 2.6h-3.4l-2.55-2.6v-3.8z"/><path class="h" d="M918.2 252.3l1.8-1.6"/><path d="M937.2 244.8m-1.7-4.5h3.4l2.55 2.6v3.8l-2.55 2.6h-3.4l-2.55-2.6v-3.8z"/><path class="h" d="M938.2 247.5l1.8-1.6"/><path d="M960.1 245.5m-1.7-4.5h3.4l2.55 2.6v3.8l-2.55 2.6h-3.4l-2.55-2.6v-3.8z"/><path class="h" d="M961.1 248.2l1.8-1.6"/><path d="M873.1 255.0m-1.7-4.5h3.4l2.55 2.6v3.8l-2.55 2.6h-3.4l-2.55-2.6v-3.8z"/><path class="h" d="M874.1 257.7l1.8-1.6"/><path d="M889.4 259.8m-1.7-4.5h3.4l2.55 2.6v3.8l-2.55 2.6h-3.4l-2.55-2.6v-3.8z"/><path class="h" d="M890.4 262.5l1.8-1.6"/><path d="M899.0 257.3m-1.7-4.5h3.4l2.55 2.6v3.8l-2.55 2.6h-3.4l-2.55-2.6v-3.8z"/><path class="h" d="M900.0 260.0l1.8-1.6"/><path d="M909.4 256.1m-1.7-4.5h3.4l2.55 2.6v3.8l-2.55 2.6h-3.4l-2.55-2.6v-3.8z"/><path class="h" d="M910.4 258.8l1.8-1.6"/><path d="M1005.2 250.6m-1.7-4.5h3.4l2.55 2.6v3.8l-2.55 2.6h-3.4l-2.55-2.6v-3.8z"/><path class="h" d="M1006.2 253.3l1.8-1.6"/><path d="M997.7 253.7m-1.7-4.5h3.4l2.55 2.6v3.8l-2.55 2.6h-3.4l-2.55-2.6v-3.8z"/><path class="h" d="M998.7 256.4l1.8-1.6"/><path d="M996.7 261.5m-1.7-4.5h3.4l2.55 2.6v3.8l-2.55 2.6h-3.4l-2.55-2.6v-3.8z"/><path class="h" d="M997.7 264.2l1.8-1.6"/><path d="M982.6 267.1m-1.7-4.5h3.4l2.55 2.6v3.8l-2.55 2.6h-3.4l-2.55-2.6v-3.8z"/><path class="h" d="M983.6 269.8l1.8-1.6"/><path d="M974.1 268.6m-1.7-4.5h3.4l2.55 2.6v3.8l-2.55 2.6h-3.4l-2.55-2.6v-3.8z"/><path class="h" d="M975.1 271.3l1.8-1.6"/><path d="M990.8 272.1m-1.7-4.5h3.4l2.55 2.6v3.8l-2.55 2.6h-3.4l-2.55-2.6v-3.8z"/><path class="h" d="M991.8 274.8l1.8-1.6"/><path d="M955.4 270.9m-1.7-4.5h3.4l2.55 2.6v3.8l-2.55 2.6h-3.4l-2.55-2.6v-3.8z"/><path class="h" d="M956.4 273.6l1.8-1.6"/><path d="M911.9 267.1m-1.7-4.5h3.4l2.55 2.6v3.8l-2.55 2.6h-3.4l-2.55-2.6v-3.8z"/><path class="h" d="M912.9 269.8l1.8-1.6"/><path d="M928.8 261.1m-1.7-4.5h3.4l2.55 2.6v3.8l-2.55 2.6h-3.4l-2.55-2.6v-3.8z"/><path class="h" d="M929.8 263.8l1.8-1.6"/><path d="M922.8 266.5m-1.7-4.5h3.4l2.55 2.6v3.8l-2.55 2.6h-3.4l-2.55-2.6v-3.8z"/><path class="h" d="M923.8 269.2l1.8-1.6"/><path d="M925.9 272.7m-1.7-4.5h3.4l2.55 2.6v3.8l-2.55 2.6h-3.4l-2.55-2.6v-3.8z"/><path class="h" d="M926.9 275.4l1.8-1.6"/><path d="M935.3 267.7m-1.7-4.5h3.4l2.55 2.6v3.8l-2.55 2.6h-3.4l-2.55-2.6v-3.8z"/><path class="h" d="M936.3 270.4l1.8-1.6"/><path d="M938.4 273.4m-1.7-4.5h3.4l2.55 2.6v3.8l-2.55 2.6h-3.4l-2.55-2.6v-3.8z"/><path class="h" d="M939.4 276.1l1.8-1.6"/><path d="M900.0 268.1m-1.7-4.5h3.4l2.55 2.6v3.8l-2.55 2.6h-3.4l-2.55-2.6v-3.8z"/><path class="h" d="M901.0 270.8l1.8-1.6"/><path d="M902.5 272.7m-1.7-4.5h3.4l2.55 2.6v3.8l-2.55 2.6h-3.4l-2.55-2.6v-3.8z"/><path class="h" d="M903.5 275.4l1.8-1.6"/><path d="M900.5 278.1m-1.7-4.5h3.4l2.55 2.6v3.8l-2.55 2.6h-3.4l-2.55-2.6v-3.8z"/><path class="h" d="M901.5 280.8l1.8-1.6"/><path d="M877.7 266.5m-1.7-4.5h3.4l2.55 2.6v3.8l-2.55 2.6h-3.4l-2.55-2.6v-3.8z"/><path class="h" d="M878.7 269.2l1.8-1.6"/><path d="M880.9 270.9m-1.7-4.5h3.4l2.55 2.6v3.8l-2.55 2.6h-3.4l-2.55-2.6v-3.8z"/><path class="h" d="M881.9 273.6l1.8-1.6"/><path d="M884.0 275.2m-1.7-4.5h3.4l2.55 2.6v3.8l-2.55 2.6h-3.4l-2.55-2.6v-3.8z"/><path class="h" d="M885.0 277.9l1.8-1.6"/><path d="M882.7 280.9m-1.7-4.5h3.4l2.55 2.6v3.8l-2.55 2.6h-3.4l-2.55-2.6v-3.8z"/><path class="h" d="M883.7 283.6l1.8-1.6"/><path d="M880.9 284.0m-1.7-4.5h3.4l2.55 2.6v3.8l-2.55 2.6h-3.4l-2.55-2.6v-3.8z"/><path class="h" d="M881.9 286.7l1.8-1.6"/><path d="M866.5 270.2m-1.7-4.5h3.4l2.55 2.6v3.8l-2.55 2.6h-3.4l-2.55-2.6v-3.8z"/><path class="h" d="M867.5 272.9l1.8-1.6"/><path d="M861.5 277.1m-1.7-4.5h3.4l2.55 2.6v3.8l-2.55 2.6h-3.4l-2.55-2.6v-3.8z"/><path class="h" d="M862.5 279.8l1.8-1.6"/><path d="M869.6 278.4m-1.7-4.5h3.4l2.55 2.6v3.8l-2.55 2.6h-3.4l-2.55-2.6v-3.8z"/><path class="h" d="M870.6 281.1l1.8-1.6"/><path d="M867.1 283.4m-1.7-4.5h3.4l2.55 2.6v3.8l-2.55 2.6h-3.4l-2.55-2.6v-3.8z"/><path class="h" d="M868.1 286.1l1.8-1.6"/><path d="M875.2 282.8m-1.7-4.5h3.4l2.55 2.6v3.8l-2.55 2.6h-3.4l-2.55-2.6v-3.8z"/><path class="h" d="M876.2 285.5l1.8-1.6"/><path d="M887.1 288.6m-1.7-4.5h3.4l2.55 2.6v3.8l-2.55 2.6h-3.4l-2.55-2.6v-3.8z"/><path class="h" d="M888.1 291.3l1.8-1.6"/><path d="M891.5 289.0m-1.7-4.5h3.4l2.55 2.6v3.8l-2.55 2.6h-3.4l-2.55-2.6v-3.8z"/><path class="h" d="M892.5 291.7l1.8-1.6"/><path d="M895.3 287.1m-1.7-4.5h3.4l2.55 2.6v3.8l-2.55 2.6h-3.4l-2.55-2.6v-3.8z"/><path class="h" d="M896.3 289.8l1.8-1.6"/><path d="M903.4 288.4m-1.7-4.5h3.4l2.55 2.6v3.8l-2.55 2.6h-3.4l-2.55-2.6v-3.8z"/><path class="h" d="M904.4 291.1l1.8-1.6"/><path d="M909.7 288.4m-1.7-4.5h3.4l2.55 2.6v3.8l-2.55 2.6h-3.4l-2.55-2.6v-3.8z"/><path class="h" d="M910.7 291.1l1.8-1.6"/><path d="M904.0 292.8m-1.7-4.5h3.4l2.55 2.6v3.8l-2.55 2.6h-3.4l-2.55-2.6v-3.8z"/><path class="h" d="M905.0 295.5l1.8-1.6"/><path d="M918.0 288.4m-1.7-4.5h3.4l2.55 2.6v3.8l-2.55 2.6h-3.4l-2.55-2.6v-3.8z"/><path class="h" d="M919.0 291.1l1.8-1.6"/><path d="M922.5 290.3m-1.7-4.5h3.4l2.55 2.6v3.8l-2.55 2.6h-3.4l-2.55-2.6v-3.8z"/><path class="h" d="M923.5 293.0l1.8-1.6"/><path d="M867.7 290.9m-1.7-4.5h3.4l2.55 2.6v3.8l-2.55 2.6h-3.4l-2.55-2.6v-3.8z"/><path class="h" d="M868.7 293.6l1.8-1.6"/><path d="M865.2 294.7m-1.7-4.5h3.4l2.55 2.6v3.8l-2.55 2.6h-3.4l-2.55-2.6v-3.8z"/><path class="h" d="M866.2 297.4l1.8-1.6"/><path d="M1002.6 291.5m-1.7-4.5h3.4l2.55 2.6v3.8l-2.55 2.6h-3.4l-2.55-2.6v-3.8z"/><path class="h" d="M1003.6 294.2l1.8-1.6"/><path d="M877.7 298.2m-1.7-4.5h3.4l2.55 2.6v3.8l-2.55 2.6h-3.4l-2.55-2.6v-3.8z"/><path class="h" d="M878.7 300.9l1.8-1.6"/><path d="M928.4 300.1m-1.7-4.5h3.4l2.55 2.6v3.8l-2.55 2.6h-3.4l-2.55-2.6v-3.8z"/><path class="h" d="M929.4 302.8l1.8-1.6"/><path d="M952.0 299.4m-1.7-4.5h3.4l2.55 2.6v3.8l-2.55 2.6h-3.4l-2.55-2.6v-3.8z"/><path class="h" d="M953.0 302.1l1.8-1.6"/><path d="M900.9 301.1m-1.7-4.5h3.4l2.55 2.6v3.8l-2.55 2.6h-3.4l-2.55-2.6v-3.8z"/><path class="h" d="M901.9 303.8l1.8-1.6"/><path d="M895.3 304.8m-1.7-4.5h3.4l2.55 2.6v3.8l-2.55 2.6h-3.4l-2.55-2.6v-3.8z"/><path class="h" d="M896.3 307.5l1.8-1.6"/><path d="M908.4 302.6m-1.7-4.5h3.4l2.55 2.6v3.8l-2.55 2.6h-3.4l-2.55-2.6v-3.8z"/><path class="h" d="M909.4 305.3l1.8-1.6"/><path d="M905.9 307.3m-1.7-4.5h3.4l2.55 2.6v3.8l-2.55 2.6h-3.4l-2.55-2.6v-3.8z"/><path class="h" d="M906.9 310.0l1.8-1.6"/><path d="M916.5 304.8m-1.7-4.5h3.4l2.55 2.6v3.8l-2.55 2.6h-3.4l-2.55-2.6v-3.8z"/><path class="h" d="M917.5 307.5l1.8-1.6"/><path d="M866.7 306.3m-1.7-4.5h3.4l2.55 2.6v3.8l-2.55 2.6h-3.4l-2.55-2.6v-3.8z"/><path class="h" d="M867.7 309.0l1.8-1.6"/><path d="M868.7 311.9m-1.7-4.5h3.4l2.55 2.6v3.8l-2.55 2.6h-3.4l-2.55-2.6v-3.8z"/><path class="h" d="M869.7 314.6l1.8-1.6"/><path d="M885.2 311.6m-1.7-4.5h3.4l2.55 2.6v3.8l-2.55 2.6h-3.4l-2.55-2.6v-3.8z"/><path class="h" d="M886.2 314.3l1.8-1.6"/><path d="M879.0 313.8m-1.7-4.5h3.4l2.55 2.6v3.8l-2.55 2.6h-3.4l-2.55-2.6v-3.8z"/><path class="h" d="M880.0 316.5l1.8-1.6"/><path d="M873.3 315.3m-1.7-4.5h3.4l2.55 2.6v3.8l-2.55 2.6h-3.4l-2.55-2.6v-3.8z"/><path class="h" d="M874.3 318.0l1.8-1.6"/><path d="M862.1 321.3m-1.7-4.5h3.4l2.55 2.6v3.8l-2.55 2.6h-3.4l-2.55-2.6v-3.8z"/><path class="h" d="M863.1 324.0l1.8-1.6"/><path d="M864.0 325.1m-1.7-4.5h3.4l2.55 2.6v3.8l-2.55 2.6h-3.4l-2.55-2.6v-3.8z"/><path class="h" d="M865.0 327.8l1.8-1.6"/><path d="M884.6 319.5m-1.7-4.5h3.4l2.55 2.6v3.8l-2.55 2.6h-3.4l-2.55-2.6v-3.8z"/><path class="h" d="M885.6 322.2l1.8-1.6"/><path d="M888.4 325.7m-1.7-4.5h3.4l2.55 2.6v3.8l-2.55 2.6h-3.4l-2.55-2.6v-3.8z"/><path class="h" d="M889.4 328.4l1.8-1.6"/><path d="M887.7 333.9m-1.7-4.5h3.4l2.55 2.6v3.8l-2.55 2.6h-3.4l-2.55-2.6v-3.8z"/><path class="h" d="M888.7 336.6l1.8-1.6"/><path d="M874.0 322.6m-1.7-4.5h3.4l2.55 2.6v3.8l-2.55 2.6h-3.4l-2.55-2.6v-3.8z"/><path class="h" d="M875.0 325.3l1.8-1.6"/><path d="M877.7 327.6m-1.7-4.5h3.4l2.55 2.6v3.8l-2.55 2.6h-3.4l-2.55-2.6v-3.8z"/><path class="h" d="M878.7 330.3l1.8-1.6"/><path d="M880.2 332.6m-1.7-4.5h3.4l2.55 2.6v3.8l-2.55 2.6h-3.4l-2.55-2.6v-3.8z"/><path class="h" d="M881.2 335.3l1.8-1.6"/><path d="M869.6 329.5m-1.7-4.5h3.4l2.55 2.6v3.8l-2.55 2.6h-3.4l-2.55-2.6v-3.8z"/><path class="h" d="M870.6 332.2l1.8-1.6"/><path d="M878.4 336.4m-1.7-4.5h3.4l2.55 2.6v3.8l-2.55 2.6h-3.4l-2.55-2.6v-3.8z"/><path class="h" d="M879.4 339.1l1.8-1.6"/><path d="M866.5 326.3m-1.7-4.5h3.4l2.55 2.6v3.8l-2.55 2.6h-3.4l-2.55-2.6v-3.8z"/><path class="h" d="M867.5 329.0l1.8-1.6"/><path d="M861.5 339.5m-1.7-4.5h3.4l2.55 2.6v3.8l-2.55 2.6h-3.4l-2.55-2.6v-3.8z"/><path class="h" d="M862.5 342.2l1.8-1.6"/><path d="M901.5 325.1m-1.7-4.5h3.4l2.55 2.6v3.8l-2.55 2.6h-3.4l-2.55-2.6v-3.8z"/><path class="h" d="M902.5 327.8l1.8-1.6"/><path d="M908.8 323.8m-1.7-4.5h3.4l2.55 2.6v3.8l-2.55 2.6h-3.4l-2.55-2.6v-3.8z"/><path class="h" d="M909.8 326.5l1.8-1.6"/><path d="M906.3 329.5m-1.7-4.5h3.4l2.55 2.6v3.8l-2.55 2.6h-3.4l-2.55-2.6v-3.8z"/><path class="h" d="M907.3 332.2l1.8-1.6"/><path d="M933.2 324.1m-1.7-4.5h3.4l2.55 2.6v3.8l-2.55 2.6h-3.4l-2.55-2.6v-3.8z"/><path class="h" d="M934.2 326.8l1.8-1.6"/><path d="M925.9 327.6m-1.7-4.5h3.4l2.55 2.6v3.8l-2.55 2.6h-3.4l-2.55-2.6v-3.8z"/><path class="h" d="M926.9 330.3l1.8-1.6"/><path d="M924.7 335.1m-1.7-4.5h3.4l2.55 2.6v3.8l-2.55 2.6h-3.4l-2.55-2.6v-3.8z"/><path class="h" d="M925.7 337.8l1.8-1.6"/><path d="M929.1 338.9m-1.7-4.5h3.4l2.55 2.6v3.8l-2.55 2.6h-3.4l-2.55-2.6v-3.8z"/><path class="h" d="M930.1 341.6l1.8-1.6"/><path d="M935.1 338.9m-1.7-4.5h3.4l2.55 2.6v3.8l-2.55 2.6h-3.4l-2.55-2.6v-3.8z"/><path class="h" d="M936.1 341.6l1.8-1.6"/><path d="M952.0 330.1m-1.7-4.5h3.4l2.55 2.6v3.8l-2.55 2.6h-3.4l-2.55-2.6v-3.8z"/><path class="h" d="M953.0 332.8l1.8-1.6"/><path d="M915.3 336.1m-1.7-4.5h3.4l2.55 2.6v3.8l-2.55 2.6h-3.4l-2.55-2.6v-3.8z"/><path class="h" d="M916.3 338.8l1.8-1.6"/><path d="M978.9 350.8m-1.7-4.5h3.4l2.55 2.6v3.8l-2.55 2.6h-3.4l-2.55-2.6v-3.8z"/><path class="h" d="M979.9 353.5l1.8-1.6"/><path d="M867.1 348.3m-1.7-4.5h3.4l2.55 2.6v3.8l-2.55 2.6h-3.4l-2.55-2.6v-3.8z"/><path class="h" d="M868.1 351.0l1.8-1.6"/><path d="M874.0 345.8m-1.7-4.5h3.4l2.55 2.6v3.8l-2.55 2.6h-3.4l-2.55-2.6v-3.8z"/><path class="h" d="M875.0 348.5l1.8-1.6"/><path d="M878.4 344.9m-1.7-4.5h3.4l2.55 2.6v3.8l-2.55 2.6h-3.4l-2.55-2.6v-3.8z"/><path class="h" d="M879.4 347.6l1.8-1.6"/><path d="M884.6 356.8m-1.7-4.5h3.4l2.55 2.6v3.8l-2.55 2.6h-3.4l-2.55-2.6v-3.8z"/><path class="h" d="M885.6 359.5l1.8-1.6"/><path d="M893.0 362.7m-1.7-4.5h3.4l2.55 2.6v3.8l-2.55 2.6h-3.4l-2.55-2.6v-3.8z"/><path class="h" d="M894.0 365.4l1.8-1.6"/><path d="M863.7 357.6m-1.7-4.5h3.4l2.55 2.6v3.8l-2.55 2.6h-3.4l-2.55-2.6v-3.8z"/><path class="h" d="M864.7 360.3l1.8-1.6"/><path d="M864.0 363.9m-1.7-4.5h3.4l2.55 2.6v3.8l-2.55 2.6h-3.4l-2.55-2.6v-3.8z"/><path class="h" d="M865.0 366.6l1.8-1.6"/><path d="M865.8 371.2m-1.7-4.5h3.4l2.55 2.6v3.8l-2.55 2.6h-3.4l-2.55-2.6v-3.8z"/><path class="h" d="M866.8 373.9l1.8-1.6"/><path d="M891.9 379.7m-1.7-4.5h3.4l2.55 2.6v3.8l-2.55 2.6h-3.4l-2.55-2.6v-3.8z"/><path class="h" d="M892.9 382.4l1.8-1.6"/><path d="M869.6 395.6m-1.7-4.5h3.4l2.55 2.6v3.8l-2.55 2.6h-3.4l-2.55-2.6v-3.8z"/><path class="h" d="M870.6 398.3l1.8-1.6"/><path d="M928.4 389.6m-1.7-4.5h3.4l2.55 2.6v3.8l-2.55 2.6h-3.4l-2.55-2.6v-3.8z"/><path class="h" d="M929.4 392.3l1.8-1.6"/><path d="M971.9 406.6m-1.7-4.5h3.4l2.55 2.6v3.8l-2.55 2.6h-3.4l-2.55-2.6v-3.8z"/><path class="h" d="M972.9 409.3l1.8-1.6"/><path d="M893.0 419.8m-1.7-4.5h3.4l2.55 2.6v3.8l-2.55 2.6h-3.4l-2.55-2.6v-3.8z"/><path class="h" d="M894.0 422.5l1.8-1.6"/><path d="M855.7 284.6m-1.7-4.5h3.4l2.55 2.6v3.8l-2.55 2.6h-3.4l-2.55-2.6v-3.8z"/><path class="h" d="M856.7 287.3l1.8-1.6"/><path d="M858.5 294.9m-1.7-4.5h3.4l2.55 2.6v3.8l-2.55 2.6h-3.4l-2.55-2.6v-3.8z"/><path class="h" d="M859.5 297.6l1.8-1.6"/><path d="M820.1 299.1m-1.7-4.5h3.4l2.55 2.6v3.8l-2.55 2.6h-3.4l-2.55-2.6v-3.8z"/><path class="h" d="M821.1 301.8l1.8-1.6"/><path d="M848.2 305.7m-1.7-4.5h3.4l2.55 2.6v3.8l-2.55 2.6h-3.4l-2.55-2.6v-3.8z"/><path class="h" d="M849.2 308.4l1.8-1.6"/><path d="M846.0 311.3m-1.7-4.5h3.4l2.55 2.6v3.8l-2.55 2.6h-3.4l-2.55-2.6v-3.8z"/><path class="h" d="M847.0 314.0l1.8-1.6"/><path d="M809.4 322.8m-1.7-4.5h3.4l2.55 2.6v3.8l-2.55 2.6h-3.4l-2.55-2.6v-3.8z"/><path class="h" d="M810.4 325.5l1.8-1.6"/><path d="M832.8 330.1m-1.7-4.5h3.4l2.55 2.6v3.8l-2.55 2.6h-3.4l-2.55-2.6v-3.8z"/><path class="h" d="M833.8 332.8l1.8-1.6"/><path d="M769.2 348.3m-1.7-4.5h3.4l2.55 2.6v3.8l-2.55 2.6h-3.4l-2.55-2.6v-3.8z"/><path class="h" d="M770.2 351.0l1.8-1.6"/><path d="M842.2 322.6m-1.7-4.5h3.4l2.55 2.6v3.8l-2.55 2.6h-3.4l-2.55-2.6v-3.8z"/><path class="h" d="M843.2 325.3l1.8-1.6"/><path d="M846.0 328.2m-1.7-4.5h3.4l2.55 2.6v3.8l-2.55 2.6h-3.4l-2.55-2.6v-3.8z"/><path class="h" d="M847.0 330.9l1.8-1.6"/><path d="M850.4 332.6m-1.7-4.5h3.4l2.55 2.6v3.8l-2.55 2.6h-3.4l-2.55-2.6v-3.8z"/><path class="h" d="M851.4 335.3l1.8-1.6"/><path d="M856.6 322.6m-1.7-4.5h3.4l2.55 2.6v3.8l-2.55 2.6h-3.4l-2.55-2.6v-3.8z"/><path class="h" d="M857.6 325.3l1.8-1.6"/><path d="M854.1 327.6m-1.7-4.5h3.4l2.55 2.6v3.8l-2.55 2.6h-3.4l-2.55-2.6v-3.8z"/><path class="h" d="M855.1 330.3l1.8-1.6"/><path d="M859.1 333.9m-1.7-4.5h3.4l2.55 2.6v3.8l-2.55 2.6h-3.4l-2.55-2.6v-3.8z"/><path class="h" d="M860.1 336.6l1.8-1.6"/><path d="M855.4 337.6m-1.7-4.5h3.4l2.55 2.6v3.8l-2.55 2.6h-3.4l-2.55-2.6v-3.8z"/><path class="h" d="M856.4 340.3l1.8-1.6"/><path d="M858.5 345.8m-1.7-4.5h3.4l2.55 2.6v3.8l-2.55 2.6h-3.4l-2.55-2.6v-3.8z"/><path class="h" d="M859.5 348.5l1.8-1.6"/><path d="M843.5 352.9m-1.7-4.5h3.4l2.55 2.6v3.8l-2.55 2.6h-3.4l-2.55-2.6v-3.8z"/><path class="h" d="M844.5 355.6l1.8-1.6"/><path d="M839.7 362.4m-1.7-4.5h3.4l2.55 2.6v3.8l-2.55 2.6h-3.4l-2.55-2.6v-3.8z"/><path class="h" d="M840.7 365.1l1.8-1.6"/><path d="M829.5 372.4m-1.7-4.5h3.4l2.55 2.6v3.8l-2.55 2.6h-3.4l-2.55-2.6v-3.8z"/><path class="h" d="M830.5 375.1l1.8-1.6"/><path d="M847.0 369.1m-1.7-4.5h3.4l2.55 2.6v3.8l-2.55 2.6h-3.4l-2.55-2.6v-3.8z"/><path class="h" d="M848.0 371.8l1.8-1.6"/><path d="M857.6 374.9m-1.7-4.5h3.4l2.55 2.6v3.8l-2.55 2.6h-3.4l-2.55-2.6v-3.8z"/><path class="h" d="M858.6 377.6l1.8-1.6"/><path d="M842.2 382.8m-1.7-4.5h3.4l2.55 2.6v3.8l-2.55 2.6h-3.4l-2.55-2.6v-3.8z"/><path class="h" d="M843.2 385.5l1.8-1.6"/><path d="M829.5 389.3m-1.7-4.5h3.4l2.55 2.6v3.8l-2.55 2.6h-3.4l-2.55-2.6v-3.8z"/><path class="h" d="M830.5 392.0l1.8-1.6"/><path d="M772.7 413.8m-1.7-4.5h3.4l2.55 2.6v3.8l-2.55 2.6h-3.4l-2.55-2.6v-3.8z"/><path class="h" d="M773.7 416.5l1.8-1.6"/><path d="M839.7 366.2m-1.7-4.5h3.4l2.55 2.6v3.8l-2.55 2.6h-3.4l-2.55-2.6v-3.8z"/><path class="h" d="M840.7 368.9l1.8-1.6"/><path d="M881.9 324.2m-1.7-4.5h3.4l2.55 2.6v3.8l-2.55 2.6h-3.4l-2.55-2.6v-3.8z"/><path class="h" d="M882.9 326.9l1.8-1.6"/><path d="M872.4 331.7m-1.7-4.5h3.4l2.55 2.6v3.8l-2.55 2.6h-3.4l-2.55-2.6v-3.8z"/><path class="h" d="M873.4 334.4l1.8-1.6"/><path d="M750.3 326.6m-1.7-4.5h3.4l2.55 2.6v3.8l-2.55 2.6h-3.4l-2.55-2.6v-3.8z"/><path class="h" d="M751.3 329.3l1.8-1.6"/><path d="M746.5 382.2m-1.7-4.5h3.4l2.55 2.6v3.8l-2.55 2.6h-3.4l-2.55-2.6v-3.8z"/><path class="h" d="M747.5 384.9l1.8-1.6"/><path d="M809.1 480.4m-1.7-4.5h3.4l2.55 2.6v3.8l-2.55 2.6h-3.4l-2.55-2.6v-3.8z"/><path class="h" d="M810.1 483.1l1.8-1.6"/><path d="M1154.3 99.9m-1.7-4.5h3.4l2.55 2.6v3.8l-2.55 2.6h-3.4l-2.55-2.6v-3.8z"/><path class="h" d="M1155.3 102.6l1.8-1.6"/><path d="M1191.8 112.4m-1.7-4.5h3.4l2.55 2.6v3.8l-2.55 2.6h-3.4l-2.55-2.6v-3.8z"/><path class="h" d="M1192.8 115.1l1.8-1.6"/><path d="M1077.9 117.1m-1.7-4.5h3.4l2.55 2.6v3.8l-2.55 2.6h-3.4l-2.55-2.6v-3.8z"/><path class="h" d="M1078.9 119.8l1.8-1.6"/><path d="M1099.2 132.9m-1.7-4.5h3.4l2.55 2.6v3.8l-2.55 2.6h-3.4l-2.55-2.6v-3.8z"/><path class="h" d="M1100.2 135.6l1.8-1.6"/><path d="M1156.8 140.4m-1.7-4.5h3.4l2.55 2.6v3.8l-2.55 2.6h-3.4l-2.55-2.6v-3.8z"/><path class="h" d="M1157.8 143.1l1.8-1.6"/><path d="M1130.5 167.0m-1.7-4.5h3.4l2.55 2.6v3.8l-2.55 2.6h-3.4l-2.55-2.6v-3.8z"/><path class="h" d="M1131.5 169.7l1.8-1.6"/><path d="M1056.6 159.7m-1.7-4.5h3.4l2.55 2.6v3.8l-2.55 2.6h-3.4l-2.55-2.6v-3.8z"/><path class="h" d="M1057.6 162.4l1.8-1.6"/><path d="M1052.9 194.8m-1.7-4.5h3.4l2.55 2.6v3.8l-2.55 2.6h-3.4l-2.55-2.6v-3.8z"/><path class="h" d="M1053.9 197.5l1.8-1.6"/><path d="M1058.4 195.3m-1.7-4.5h3.4l2.55 2.6v3.8l-2.55 2.6h-3.4l-2.55-2.6v-3.8z"/><path class="h" d="M1059.4 198.0l1.8-1.6"/><path d="M1034.1 207.6m-1.7-4.5h3.4l2.55 2.6v3.8l-2.55 2.6h-3.4l-2.55-2.6v-3.8z"/><path class="h" d="M1035.1 210.3l1.8-1.6"/><path d="M1039.1 219.8m-1.7-4.5h3.4l2.55 2.6v3.8l-2.55 2.6h-3.4l-2.55-2.6v-3.8z"/><path class="h" d="M1040.1 222.5l1.8-1.6"/><path d="M1093.4 229.8m-1.7-4.5h3.4l2.55 2.6v3.8l-2.55 2.6h-3.4l-2.55-2.6v-3.8z"/><path class="h" d="M1094.4 232.5l1.8-1.6"/><path d="M1055.4 264.9m-1.7-4.5h3.4l2.55 2.6v3.8l-2.55 2.6h-3.4l-2.55-2.6v-3.8z"/><path class="h" d="M1056.4 267.6l1.8-1.6"/></g>
</svg></body></html>
